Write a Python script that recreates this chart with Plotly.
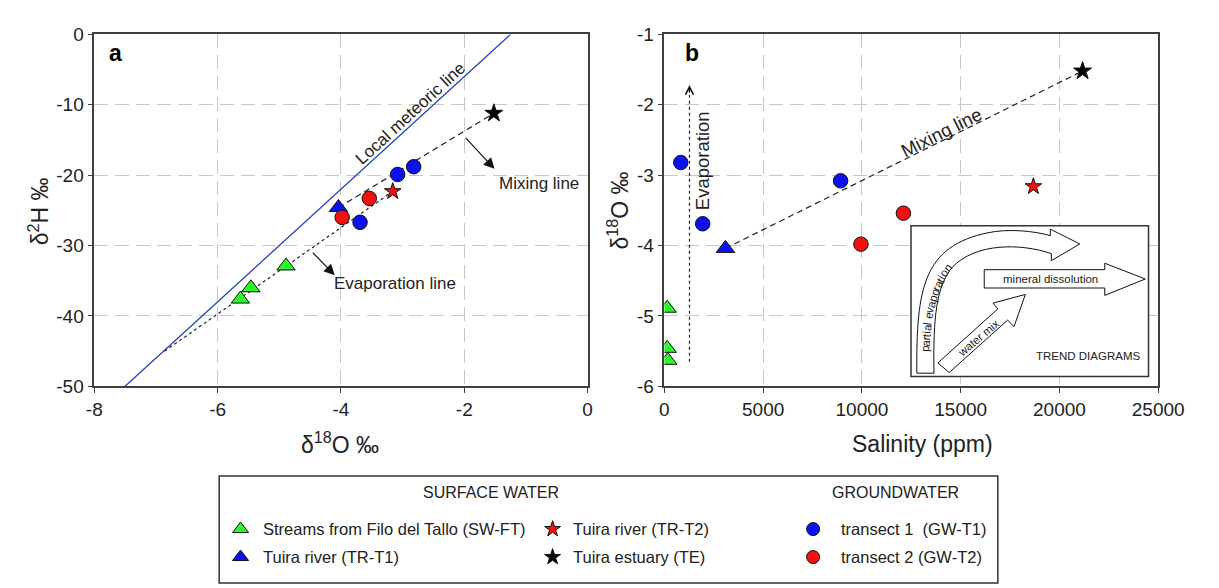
import math
import plotly.graph_objects as go

# ---------------- data ----------------
# Streams from Filo del Tallo (SW-FT)
swft_d18o = [-4.89, -5.46, -5.63]
swft_d2h = [-32.9, -36.0, -37.6]
swft_sal = [140, 140, 170]
# Tuira river (TR-T1)
trt1_d18o = [-4.04]
trt1_d2h = [-24.6]
trt1_sal = [3090]
# Tuira river (TR-T2)
trt2_d18o = [-3.16]
trt2_d2h = [-22.3]
trt2_sal = [18680]
# Tuira estuary (TE)
te_d18o = [-1.52]
te_d2h = [-11.2]
te_sal = [21170]
# Groundwater transect 1 (GW-T1)
gwt1_d18o = [-2.82, -3.08, -3.69]
gwt1_d2h = [-18.8, -19.9, -26.7]
gwt1_sal = [830, 8920, 1940]
# Groundwater transect 2 (GW-T2)
gwt2_d18o = [-3.54, -3.98]
gwt2_d2h = [-23.3, -26.0]
gwt2_sal = [12100, 9950]

# reference lines
lmwl_x = [-7.5, -1.25]
lmwl_y = [-50.0, 0.0]
evap_a_x = [-6.86, -3.16]
evap_a_y = [-45.0, -22.3]
evap_b_x = [1270, 1270]
evap_b_y = [-5.65, -1.78]

# ticks
a_xticks = [-8, -6, -4, -2, 0]
a_xlabels = ["-8", "-6", "-4", "-2", "0"]
a_yticks = [-50, -40, -30, -20, -10, 0]
a_ylabels = ["-50", "-40", "-30", "-20", "-10", "0"]
b_xticks = [0, 5000, 10000, 15000, 20000, 25000]
b_xlabels = ["0", "5000", "10000", "15000", "20000", "25000"]
b_yticks = [-6, -5, -4, -3, -2, -1]
b_ylabels = ["-6", "-5", "-4", "-3", "-2", "-1"]

# ---------------- style ----------------
W, H = 1219, 588
FONT = "Liberation Sans, Arial, sans-serif"
GREEN = "#2BF52B"
BLUE = "#0A10F0"
RED = "#F21010"
BLACK = "#000000"
GRID = "#c8c8c8"
FRAME = "#404040"
TXT = "#222"


def px(x):
    return x / W


def py(y):
    return 1 - y / H


fig = go.Figure()


def pts(x, y, xa, ya, color, symbol, size):
    fig.add_trace(go.Scatter(x=x, y=y, mode="markers", xaxis=xa, yaxis=ya,
                             marker=dict(color=color, symbol=symbol, size=size,
                                         line=dict(color="#111", width=1)),
                             showlegend=False, hoverinfo="skip"))


# panel a lines
fig.add_trace(go.Scatter(x=lmwl_x, y=lmwl_y, mode="lines", xaxis="x", yaxis="y",
                         line=dict(color="#2244bb", width=1.3), showlegend=False))
fig.add_trace(go.Scatter(x=evap_a_x, y=evap_a_y, mode="lines", xaxis="x", yaxis="y",
                         line=dict(color="#222", width=1.2, dash="dot"), showlegend=False))
fig.add_trace(go.Scatter(x=[trt1_d18o[0], te_d18o[0]], y=[trt1_d2h[0], te_d2h[0]],
                         mode="lines", xaxis="x", yaxis="y",
                         line=dict(color="#222", width=1.2, dash="6px,4px"), showlegend=False))
# panel b lines
fig.add_trace(go.Scatter(x=evap_b_x, y=evap_b_y, mode="lines", xaxis="x2", yaxis="y2",
                         line=dict(color="#222", width=1.2, dash="dot"), showlegend=False))
fig.add_trace(go.Scatter(x=[trt1_sal[0], te_sal[0]], y=[trt1_d18o[0], te_d18o[0]],
                         mode="lines", xaxis="x2", yaxis="y2",
                         line=dict(color="#222", width=1.2, dash="6px,4px"), showlegend=False))

# panel a points
pts(swft_d18o, swft_d2h, "x", "y", GREEN, "triangle-up", 16)
pts(trt1_d18o, trt1_d2h, "x", "y", BLUE, "triangle-up", 16)
pts(gwt2_d18o, gwt2_d2h, "x", "y", RED, "circle", 14.5)
pts(gwt1_d18o, gwt1_d2h, "x", "y", BLUE, "circle", 14.5)
pts(trt2_d18o, trt2_d2h, "x", "y", RED, "star", 12.5)
pts(te_d18o, te_d2h, "x", "y", BLACK, "star", 13.5)
# panel b points
pts(swft_sal, swft_d18o, "x2", "y2", GREEN, "triangle-up", 16)
pts(trt1_sal, trt1_d18o, "x2", "y2", BLUE, "triangle-up", 16)
pts(gwt2_sal, gwt2_d18o, "x2", "y2", RED, "circle", 14.5)
pts(gwt1_sal, gwt1_d18o, "x2", "y2", BLUE, "circle", 14.5)
pts(trt2_sal, trt2_d18o, "x2", "y2", RED, "star", 12.5)
pts(te_sal, te_d18o, "x2", "y2", BLACK, "star", 13.5)

# legend symbols (pixel overlay axis x3/y3)
leg_sym_x = [231, 231, 552, 552, 820, 820]
leg_sym_y = [530, 559, 530, 559, 530, 559]
leg_colors = [GREEN, BLUE, RED, BLACK, BLUE, RED]
leg_symbols = ["triangle-up", "triangle-up", "star", "star", "circle", "circle"]
leg_sizes = [14, 14, 12, 12, 13, 13]
for sx, sy, c, s, z in zip(leg_sym_x, leg_sym_y, leg_colors, leg_symbols, leg_sizes):
    pts([sx], [sy], "x3", "y3", c, s, z)

# ---------------- axes ----------------
axis_common = dict(showline=True, linecolor=FRAME, linewidth=1.5, mirror=True,
                   ticks="outside", ticklen=5, tickcolor=FRAME, tickwidth=1.2,
                   showgrid=True, gridcolor=GRID, gridwidth=1, griddash="14px,7px",
                   zeroline=False, tickfont=dict(family=FONT, size=19, color=TXT),
                   fixedrange=True)

ya_dom = [py(382), py(17)]
fig.update_layout(
    width=W, height=H, margin=dict(l=0, r=0, t=0, b=0), autosize=False,
    paper_bgcolor="white", plot_bgcolor="rgba(0,0,0,0)",
    xaxis=dict(domain=[px(80.5), px(588)], range=[-8, 0], tickvals=a_xticks,
               ticktext=a_xlabels, anchor="y", **axis_common),
    yaxis=dict(domain=ya_dom, range=[-50, 0], tickvals=a_yticks,
               ticktext=a_ylabels, anchor="x", **axis_common),
    xaxis2=dict(domain=[px(667), px(1175)], range=[0, 25000], tickvals=b_xticks,
                ticktext=b_xlabels, anchor="y2", **axis_common),
    yaxis2=dict(domain=ya_dom, range=[-6, -1], tickvals=b_yticks,
                ticktext=b_ylabels, anchor="x2", **axis_common),
    xaxis3=dict(domain=[0, 1], range=[0, W], visible=False, anchor="y3", fixedrange=True),
    yaxis3=dict(domain=[0, 1], range=[H, 0], visible=False, anchor="x3", fixedrange=True),
)

ann = []
shapes = []


def text(x, y, t, size=16, xref="x", yref="y", angle=0, bold=False, xanchor="center", color=TXT):
    ann.append(dict(x=x, y=y, xref=xref, yref=yref, text=("<b>%s</b>" % t if bold else t),
                    showarrow=False, textangle=angle, xanchor=xanchor, yanchor="middle",
                    font=dict(family=FONT, size=size, color=color)))


# panel labels
text(-7.66, -2.65, "a", 23, bold=True, color="#000")
text(1413, -1.27, "b", 23, "x2", "y2", bold=True, color="#000")

# panel a annotations
text(-2.87, -11.3, "Local meteoric line", 17, angle=-42.6)
text(-0.79, -21.2, "Mixing line", 17)
text(-3.12, -35.4, "Evaporation line", 17)
ann.append(dict(x=-1.51, y=-19.1, ax=-2.0, ay=-14.5, xref="x", yref="y", axref="x", ayref="y",
                showarrow=True, arrowhead=2, arrowsize=1.8, arrowwidth=1.2, arrowcolor="#111", text=""))
ann.append(dict(x=-4.1, y=-34.2, ax=-4.48, ay=-30.8, xref="x", yref="y", axref="x", ayref="y",
                showarrow=True, arrowhead=2, arrowsize=1.8, arrowwidth=1.2, arrowcolor="#111", text=""))

# panel b annotations
text(14010, -2.40, "Mixing line", 18.5, "x2", "y2", angle=-26.6)
text(1905, -2.80, "Evaporation", 18.5, "x2", "y2", angle=-90)
ann.append(dict(x=1270, y=-1.72, ax=1270, ay=-1.85, xref="x2", yref="y2", axref="x2", ayref="y2",
                showarrow=True, arrowhead=5, arrowsize=1.3, arrowwidth=1.2, arrowcolor="#111", text=""))

# axis titles
text(px(333), py(441), "δ<sup>18</sup>O ‰", 23, "paper", "paper")
text(px(23), py(200), "δ<sup>2</sup>H ‰", 23, "paper", "paper", angle=-90)
text(px(619), py(200), "δ<sup>18</sup>O ‰", 23, "paper", "paper", angle=-90)
text(px(933), py(442), "Salinity (ppm)", 23, "paper", "paper")


# ---------------- inset (trend diagrams) ----------------
def ip(X, Y):
    return 900 + X / 3.0, 200 + Y / 3.0


def path(cmds):
    out = []
    for c in cmds:
        if c[0] == "Z":
            out.append("Z")
            continue
        op, coords = c[0], c[1:]
        s = []
        for i in range(0, len(coords), 2):
            X, Y = ip(coords[i], coords[i + 1])
            s.append("%.2f,%.2f" % (X, Y))
        out.append(op + " " + " ".join(s))
    return " ".join(out)


bx0, by0 = ip(62, 46)
bx1, by1 = ip(795, 515)
shapes.append(dict(type="rect", xref="x3", yref="y3", x0=bx0, y0=by0, x1=bx1, y1=by1,
                   fillcolor="white", line=dict(color="#333", width=1.5), layer="above"))

arrow_style = dict(type="path", xref="x3", yref="y3", fillcolor="white",
                   line=dict(color="#111", width=1), layer="above")
curved = path([("M", 80, 505), ("C", 78, 240, 100, 110, 300, 68), ("C", 360, 55, 440, 62, 492, 77),
               ("L", 492, 57), ("L", 583, 103), ("L", 495, 155), ("L", 495, 133),
               ("C", 400, 100, 260, 100, 190, 175), ("C", 140, 235, 130, 330, 133, 505), ("Z",)])
straight = path([("M", 288, 183), ("L", 660, 183), ("L", 660, 163), ("L", 785, 212), ("L", 660, 263),
                 ("L", 660, 240), ("L", 288, 240), ("Z",)])
mix = path([("M", 145, 473), ("L", 330, 305), ("L", 315, 287), ("L", 415, 260), ("L", 380, 360),
            ("L", 360, 340), ("L", 180, 503), ("Z",)])
for p in (curved, straight, mix):
    shapes.append(dict(path=p, **arrow_style))

# "partial evaporation" set along the centre of the curved arrow
CW = {"p": .556, "a": .556, "r": .333, "t": .278, "i": .222, "l": .222, " ": .278,
      "e": .556, "v": .5, "o": .556, "n": .556}
ctrl = [ip(106, 505), ip(104, 290), ip(135, 150), ip(300, 92)]


def bez(t):
    u = 1 - t
    b = [u ** 3, 3 * u * u * t, 3 * u * t * t, t ** 3]
    return (sum(b[i] * ctrl[i][0] for i in range(4)), sum(b[i] * ctrl[i][1] for i in range(4)))


samples = [bez(i / 400) for i in range(401)]
cum = [0.0]
for i in range(1, len(samples)):
    cum.append(cum[-1] + math.hypot(samples[i][0] - samples[i - 1][0], samples[i][1] - samples[i - 1][1]))


def at_len(s):
    for i in range(1, len(cum)):
        if cum[i] >= s:
            x0, y0 = samples[i - 1]
            x1, y1 = samples[i]
            return x0, y0, math.degrees(math.atan2(y1 - y0, x1 - x0))
    x0, y0 = samples[-2]
    x1, y1 = samples[-1]
    return x1, y1, math.degrees(math.atan2(y1 - y0, x1 - x0))


pe_size = 11.5
s = 22.0
for ch in "partial evaporation":
    w = CW.get(ch, .55) * pe_size
    cx, cy, ang = at_len(s + w / 2)
    if ch != " ":
        text(cx, cy, ch, pe_size, "x3", "y3", angle=ang)
    s += w

tx, ty = ip(494, 212)
text(tx, ty, "mineral dissolution", 11.5, "x3", "y3")
tx, ty = ip(270, 395)
text(tx, ty, "water mix", 11.5, "x3", "y3", angle=-40)
tx, ty = ip(608, 452)
text(tx, ty, "TREND DIAGRAMS", 11.5, "x3", "y3")

# ---------------- legend box ----------------
shapes.append(dict(type="rect", xref="x3", yref="y3", x0=209, y0=475, x1=1010, y1=586,
                   fillcolor="rgba(0,0,0,0)", line=dict(color="#333", width=1.5), layer="below"))
text(489, 492, "SURFACE WATER", 16, "x3", "y3")
text(905, 492, "GROUNDWATER", 16, "x3", "y3")
leg_labels = ["Streams from Filo del Tallo (SW-FT)", "Tuira river (TR-T1)",
              "Tuira river (TR-T2)", "Tuira estuary (TE)",
              "transect 1&nbsp; (GW-T1)", "transect 2 (GW-T2)"]
leg_text_x = [252, 252, 571, 571, 847, 847]
for lx, ly, lt in zip(leg_text_x, leg_sym_y, leg_labels):
    text(lx, ly, lt, 16.5, "x3", "y3", xanchor="left")

fig.update_layout(annotations=ann, shapes=shapes)

fig.write_html("out.html")
